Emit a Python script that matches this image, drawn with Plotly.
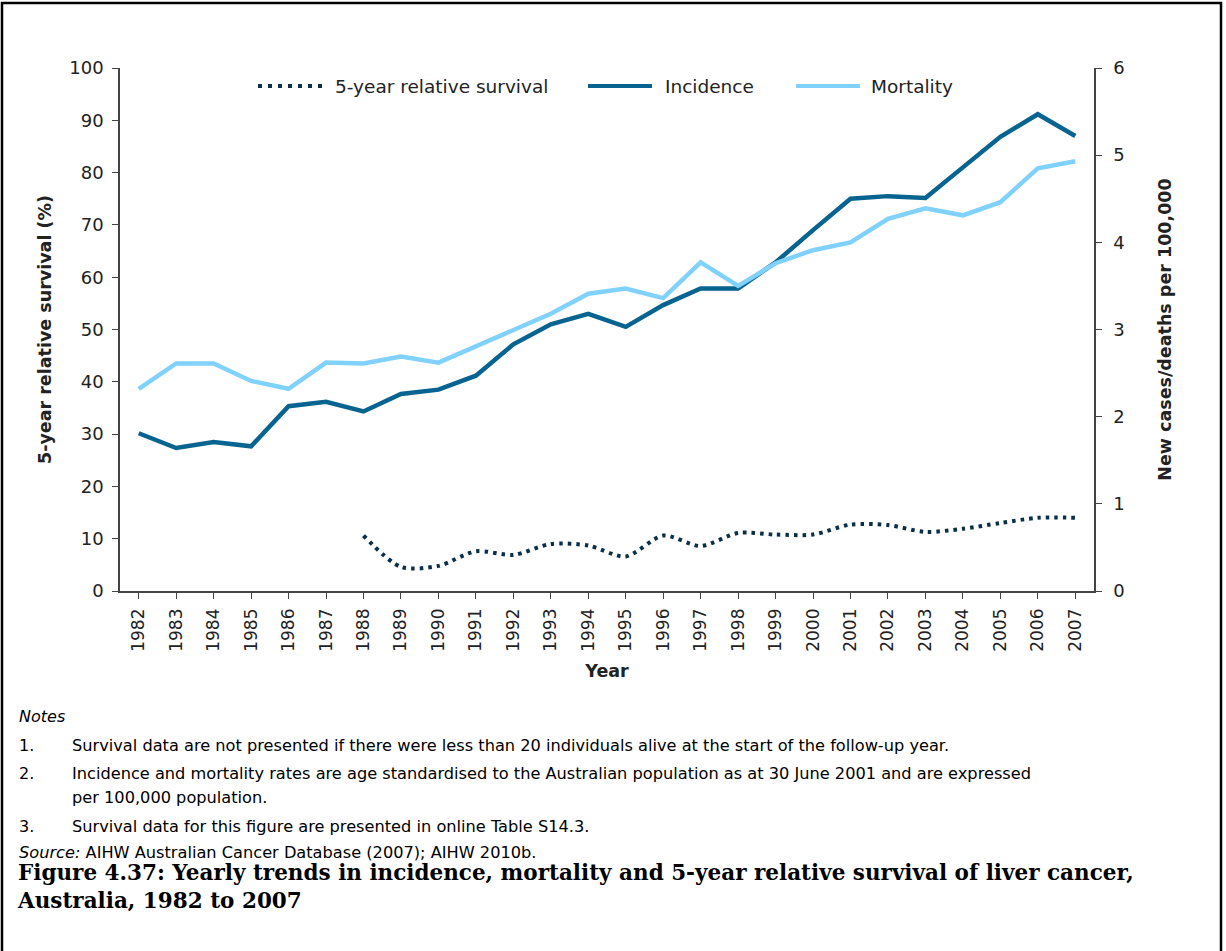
import plotly.graph_objects as go

years = [str(y) for y in range(1982, 2008)]

# new cases per 100,000 (right axis)
incidence = [1.81, 1.64, 1.71, 1.66, 2.12, 2.17, 2.06, 2.26, 2.31, 2.47, 2.83, 3.06, 3.18,
             3.03, 3.28, 3.47, 3.47, 3.77, 4.14, 4.50, 4.53, 4.51, 4.86, 5.21, 5.47, 5.22]
# deaths per 100,000 (right axis)
mortality = [2.32, 2.61, 2.61, 2.41, 2.32, 2.62, 2.61, 2.69, 2.62, 2.81, 2.99, 3.18, 3.41,
             3.47, 3.36, 3.77, 3.50, 3.76, 3.91, 4.00, 4.27, 4.39, 4.31, 4.46, 4.85, 4.93]
# 5-year relative survival, % (left axis), not shown before 1988
survival = [None, None, None, None, None, None, 10.6, 4.6, 4.8, 7.6, 6.9, 9.0, 8.7,
            6.6, 10.6, 8.6, 11.1, 10.8, 10.8, 12.7, 12.6, 11.3, 11.9, 13.0, 14.0, 14.0]

notes = [
    ("1.", "Survival data are not presented if there were less than 20 individuals alive at the start of the follow-up year."),
    ("2.", "Incidence and mortality rates are age standardised to the Australian population as at 30 June 2001 and are expressed"),
    ("", "per 100,000 population."),
    ("3.", "Survival data for this figure are presented in online Table S14.3."),
]

C_SURV = "#0b2f47"
C_INC = "#07638f"
C_MORT = "#80d2fc"
SANS = "DejaVu Sans, Arial, sans-serif"
SERIF = "DejaVu Serif, Georgia, serif"

# plot area in pixels, used to place the extra text in paper units
L, R, T, B = 120, 1094, 68, 591
fx = lambda p: (p - L) / (R - L)
fy = lambda p: (B - p) / (B - T)

fig = go.Figure()
fig.add_trace(go.Scatter(x=years, y=survival, name="5-year relative survival", yaxis="y",
                         mode="lines", line=dict(color=C_SURV, width=4, dash="3.5px,5px",
                                                 shape="spline", smoothing=0.8),
                         connectgaps=False))
fig.add_trace(go.Scatter(x=years, y=incidence, name="Incidence", yaxis="y2",
                         mode="lines", line=dict(color=C_INC, width=4.5)))
fig.add_trace(go.Scatter(x=years, y=mortality, name="Mortality", yaxis="y2",
                         mode="lines", line=dict(color=C_MORT, width=4.5)))

shapes = []
ann = []

# legend drawn by hand to get the long line samples
leg_y = fy(86)
for x0, x1, col, dash, label, tx in [
    (258, 328, C_SURV, "4px,6px", "5-year relative survival", 333),
    (588, 652, C_INC, "solid", "Incidence", 663),
    (796, 860, C_MORT, "solid", "Mortality", 869),
]:
    shapes.append(dict(type="line", xref="paper", yref="paper", x0=fx(x0), x1=fx(x1),
                       y0=leg_y, y1=leg_y, line=dict(color=col, width=4, dash=dash)))
    ann.append(dict(text=label, xref="paper", yref="paper", x=fx(tx), y=leg_y,
                    xanchor="left", yanchor="middle", showarrow=False,
                    font=dict(family=SANS, size=18.5, color="#222")))

# outer frame (bottom edge runs off the page, as in the source)
shapes.append(dict(type="rect", xref="paper", yref="paper", x0=fx(2), x1=fx(1221),
                   y0=fy(960), y1=fy(3), line=dict(color="black", width=2.5)))

ann.append(dict(text="Notes", xref="paper", yref="paper", x=fx(17), y=fy(716),
                xanchor="left", yanchor="middle", showarrow=False,
                font=dict(family=SANS, size=16, color="black", style="italic")))
for (num, txt), py in zip(notes, [745, 773, 797, 826]):
    if num:
        ann.append(dict(text=num, xref="paper", yref="paper", x=fx(17), y=fy(py),
                        xanchor="left", yanchor="middle", showarrow=False,
                        font=dict(family=SANS, size=16, color="black")))
    ann.append(dict(text=txt, xref="paper", yref="paper", x=fx(70), y=fy(py),
                    xanchor="left", yanchor="middle", showarrow=False,
                    font=dict(family=SANS, size=16.2, color="black")))
ann.append(dict(text="<i>Source:</i> AIHW Australian Cancer Database (2007); AIHW 2010b.",
                xref="paper", yref="paper", x=fx(17), y=fy(852),
                xanchor="left", yanchor="middle", showarrow=False,
                font=dict(family=SANS, size=16.2, color="black")))
ann.append(dict(text="<b>Figure 4.37: Yearly trends in incidence, mortality and 5-year relative survival of liver cancer,<br>"
                     "Australia, 1982 to 2007</b>",
                xref="paper", yref="paper", x=fx(15), y=fy(858),
                xanchor="left", yanchor="top", align="left", showarrow=False,
                font=dict(family=SERIF, size=21.5, color="black")))

fig.update_layout(
    width=1226, height=951,
    margin=dict(l=L, r=1226 - R, t=T, b=951 - B),
    plot_bgcolor="white", paper_bgcolor="white",
    showlegend=False,
    font=dict(family=SANS, color="#222"),
    shapes=shapes, annotations=ann,
    xaxis=dict(type="category", range=[-0.5, len(years) - 0.5], tickangle=-90,
               ticks="outside", ticklen=6, ticklabelstandoff=3,
               tickcolor="#444", showline=True, linecolor="#444", linewidth=1.5,
               showgrid=False, tickfont=dict(size=17),
               title=dict(text="<b>Year</b>", font=dict(size=17.5), standoff=14)),
    yaxis=dict(range=[0, 100], dtick=10, ticks="outside", ticklen=6, tickcolor="#444",
               showline=True, linecolor="#444", linewidth=1.5, showgrid=False,
               zeroline=False, tickfont=dict(size=18), ticklabelstandoff=5,
               title=dict(text="<b>5-year relative survival (%)</b>", font=dict(size=17.5), standoff=13)),
    yaxis2=dict(range=[0, 6], dtick=1, overlaying="y", side="right", ticks="outside",
                ticklen=6, tickcolor="#444", showline=True, linecolor="#444", linewidth=1.5,
                showgrid=False, zeroline=False, tickfont=dict(size=18), ticklabelstandoff=8,
                title=dict(text="<b>New cases/deaths per 100,000</b>", font=dict(size=17.5), standoff=35)),
)

# the page body has a default 8px margin; drop it so the figure sits at the corner
fig.write_html("out.html", config={"displayModeBar": False},
               post_script="document.body.style.margin='0';")
